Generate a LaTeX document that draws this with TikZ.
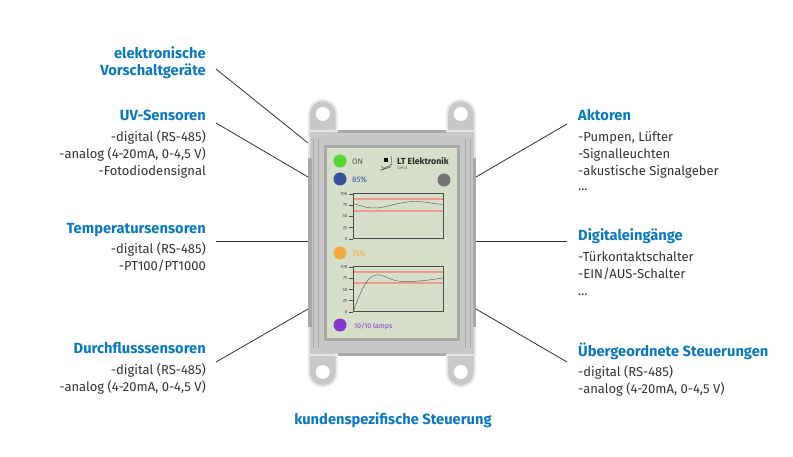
\documentclass[tikz,border=0pt]{standalone}
\usepackage{fontspec}
\setmainfont{Fira Sans}
\definecolor{headblue}{HTML}{0A78C0}
\definecolor{bodytxt}{HTML}{333333}
\definecolor{lugfill}{HTML}{C8C8C8}
\definecolor{lugedge}{HTML}{E6E6E6}
\definecolor{darkgrey}{HTML}{A8A8A8}
\definecolor{panelfill}{HTML}{D6DFC9}
\definecolor{plotred}{HTML}{F09A8E}
\definecolor{ledgreen}{HTML}{55D52F}
\definecolor{ledblue}{HTML}{35509C}
\definecolor{ledgrey}{HTML}{737373}
\definecolor{ledorange}{HTML}{F2A93B}
\definecolor{ledpurple}{HTML}{8438D0}
\tikzset{
  headl/.style={anchor=base east,inner sep=0pt,text=headblue,font=\fontsize{14.7}{16}\selectfont\bfseries},
  headr/.style={anchor=base west,inner sep=0pt,text=headblue,font=\fontsize{14.7}{16}\selectfont\bfseries},
  bodyl/.style={anchor=base east,inner sep=0pt,text=bodytxt,font=\fontsize{13}{15}\selectfont},
  bodyr/.style={anchor=base west,inner sep=0pt,text=bodytxt,font=\fontsize{13}{15}\selectfont},
  conn/.style={draw=black!80,line width=0.8pt},
  led/.style={circle,inner sep=0pt,minimum size=13pt},
  tick/.style={draw=black!70,line width=0.8pt},
  ticklab/.style={anchor=east,inner sep=0pt,text=black!70,font=\fontsize{4.5}{5}\selectfont},
  plotframe/.style={draw=black!70,line width=1pt},
  plotcurve/.style={draw=black!60,line width=0.5pt},
  limit/.style={draw=plotred,line width=1.2pt},
}
\begin{document}
\begin{tikzpicture}[x=1pt,y=-1pt]
\useasboundingbox (0,0) rectangle (793,457);
% connectors
\coordinate (a1) at (216,69);  \coordinate (b1) at (308,143);
\coordinate (a2) at (216,123); \coordinate (b2) at (308,177);
\coordinate (a3) at (216,241); \coordinate (b3) at (308,241);
\coordinate (a4) at (216,362); \coordinate (b4) at (308,309);
\coordinate (a5) at (567,124); \coordinate (b5) at (476,177);
\coordinate (a6) at (567,241); \coordinate (b6) at (476,241);
\coordinate (a7) at (567,362); \coordinate (b7) at (476,309);
\foreach \i in {1,...,7}{\draw[conn] (a\i) -- (b\i);}
% lugs
\foreach \x in {308,446}{
  \fill[lugedge] (\x,131) -- (\x,114) arc[start angle=180,end angle=360,radius=14.75] -- (\x+29.5,131) -- cycle;
  \fill[lugfill] (\x+2,131) -- (\x+2,114) arc[start angle=180,end angle=360,radius=12.75] -- (\x+27.5,131) -- cycle;
  \fill[white] (\x+14.75,114) circle[radius=7];
  \fill[lugedge] (\x,355) -- (\x,372.5) arc[start angle=180,end angle=0,radius=14.75] -- (\x+29.5,355) -- cycle;
  \fill[lugfill] (\x+2,355) -- (\x+2,372.5) arc[start angle=180,end angle=0,radius=12.75] -- (\x+27.5,355) -- cycle;
  \fill[white] (\x+14.75,372) circle[radius=7];
}
% body
\fill[lugfill] (310,131) rectangle (474,355);
\fill[lugedge] (308,131) rectangle (310,355);
\fill[lugedge] (474,131) rectangle (476,355);
\fill[darkgrey] (338,130) rectangle (446,133);
\fill[lugedge] (308,130) rectangle (338,132.5);
\fill[lugedge] (446,130) rectangle (476,132.5);
\fill[darkgrey] (308,158) rectangle (311.5,327);
\fill[darkgrey] (472.5,158) rectangle (476,327);
\fill[darkgrey] (338,353) rectangle (446,356);
\fill[lugedge] (308,354) rectangle (338,356);
\fill[lugedge] (446,354) rectangle (476,356);
\foreach \x in {313.5,318.5,465.5,470.5}{\draw[darkgrey,line width=0.8pt] (\x,139) -- (\x,348);}
% panel
\draw[darkgrey,line width=3pt,fill=panelfill] (325.5,146.5) rectangle (458.5,339);
% LEDs and texts
\node[led,fill=ledgreen] (ledon) at (340,161) {};
\node[led,fill=ledblue] (ledblue) at (340,179) {};
\node[led,fill=ledgrey] (ledgr) at (444,180) {};
\node[led,fill=ledorange] (ledor) at (340,253) {};
\node[led,fill=ledpurple] (ledpu) at (340,325) {};
\node[anchor=west,inner sep=0pt,text=black!65,font=\fontsize{8}{9}\selectfont] (ton) at (352,161.5) {ON};
\node[anchor=west,inner sep=0pt,text=ledblue,font=\fontsize{8}{9}\selectfont] (t85) at (352,179.5) {85\%};
\node[anchor=west,inner sep=0pt,text=ledorange,font=\fontsize{8}{9}\selectfont] (t75) at (352,254) {75\%};
\node[anchor=west,inner sep=0pt,text=ledpurple,font=\fontsize{7}{9}\selectfont] (t10) at (354,326) {10/10 lamps};
% logo
\node[anchor=base west,inner sep=0pt,text=black!85,font=\fontsize{8.8}{10}\selectfont\bfseries] (logo) at (397,165) {LT Elektronik};
\node[anchor=base west,inner sep=0pt,text=black!60,font=\fontsize{4.5}{5}\selectfont] (gen) at (397,170) {Gen3};
\fill[black] (383.5,158.5) rectangle (387.5,162.5);
\draw[black!70,line width=0.4pt] (381,166) .. controls (383,169) and (388,169) .. (391,166);
\draw[black!70,line width=0.4pt] (382,170) -- (390,167) (380,170.5) -- (392,164) (391,156) -- (392,165);
% plots
\foreach \py/\ra/\rb in {194/199/211,267/272/283}{
  \foreach \k/\lab in {0/100,1/75,2/50,3/25,4/0}{
    \draw[tick] (349,\py+11.25*\k) -- (353,\py+11.25*\k);
    \node[ticklab] at (347.5,\py+11.25*\k) {\lab};
  }
  \draw[limit] (353.5,\ra) -- (442.5,\ra);
  \draw[limit] (353.5,\rb) -- (442.5,\rb);
}
\draw[plotcurve] (353,203.5) .. controls (362,206) and (368,208.5) .. (375,208) .. controls (385,208) and (395,203) .. (412,201.5) .. controls (424,201) and (434,204) .. (443,204.5);
\draw[plotcurve] (353,312) .. controls (358,300) and (365,276) .. (376,275) .. controls (384,274) and (390,281) .. (402,281.5) .. controls (415,282) and (430,280) .. (443,278);
\draw[plotframe] (353,194) rectangle (443,239);
\draw[plotframe] (353,267) rectangle (443,312);
% left labels
\node[headl] (h1a) at (206,59) {elektronische};
\node[headl] (h1b) at (206,75.5) {Vorschaltgeräte};
\node[headl] (h2) at (206,121) {UV-Sensoren};
\node[bodyl] (l2a) at (206,141.5) {-digital (RS-485)};
\node[bodyl] (l2b) at (206,158.5) {-analog (4-20mA, 0-4,5 V)};
\node[bodyl] (l2c) at (206,175.5) {-Fotodiodensignal};
\node[headl] (h3) at (206,233.5) {Temperatursensoren};
\node[bodyl] (l3a) at (206,253.5) {-digital (RS-485)};
\node[bodyl] (l3b) at (206,270.5) {-PT100/PT1000};
\node[headl] (h4) at (206,353.5) {Durchflusssensoren};
\node[bodyl] (l4a) at (206,374.5) {-digital (RS-485)};
\node[bodyl] (l4b) at (206,391.5) {-analog (4-20mA, 0-4,5 V)};
% right labels
\node[headr] (h5) at (578,121) {Aktoren};
\node[bodyr] (r5a) at (578,141.5) {-Pumpen, Lüfter};
\node[bodyr] (r5b) at (578,158.5) {-Signalleuchten};
\node[bodyr] (r5c) at (578,175.5) {-akustische Signalgeber};
\node[bodyr] (r5d) at (578,190.5) {...};
\node[headr] (h6) at (578,241) {Digitaleingänge};
\node[bodyr] (r6a) at (578,261.5) {-Türkontaktschalter};
\node[bodyr] (r6b) at (578,278.5) {-EIN/AUS-Schalter};
\node[bodyr] (r6c) at (578,295.5) {...};
\node[headr] (h7) at (578,356) {Übergeordnete Steuerungen};
\node[bodyr] (r7a) at (578,376.5) {-digital (RS-485)};
\node[bodyr] (r7b) at (578,393.5) {-analog (4-20mA, 0-4,5 V)};
% caption
\node[anchor=base,inner sep=0pt,text=headblue,font=\fontsize{14.7}{16}\selectfont\bfseries] (cap) at (393,424) {kundenspezifische Steuerung};
\end{tikzpicture}
\end{document}
